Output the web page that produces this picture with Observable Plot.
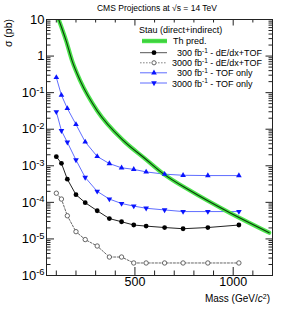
<!DOCTYPE html>
<html><head><meta charset="utf-8">
<script src="https://cdn.jsdelivr.net/npm/d3@7"></script>
<script src="https://cdn.jsdelivr.net/npm/@observablehq/plot@0.6"></script>
<style>body{margin:0;background:#fff} svg{display:block}</style>
</head><body><div id="chart"></div>
<script>
// ---- data ----
const masses = [100,126,156,200,247,308,370,432,494,557,651,745,871,1029];
const tof300   = [0.26,0.085,0.037,0.0135,0.0045,0.0018,0.00115,0.00088,0.00080,0.00068,0.00059,0.00055,0.00054,0.00054];
const tof3000  = [0.030,0.0091,0.0044,0.00144,0.00048,0.00020,0.000123,0.000093,0.000079,0.000069,0.000062,0.000056,0.000056,0.000056];
const dedx300  = [0.00177,0.00117,0.00043,0.000162,0.000098,0.000059,0.000036,0.0000295,0.000024,0.0000224,0.0000205,0.000019,0.0000205,0.000024];
const dedx3000 = [0.000178,0.000123,0.000043,0.0000158,0.0000096,0.0000064,0.0000032,0.0000032,0.0000022,0.0000022,0.0000022,0.0000022,0.0000022,0.0000022];
const thMass  = [112,150,180,222,308,443,554,647,780,971,1183];
const thXsec  = [10,2.6,0.75,0.21,0.032,0.0048,0.00153,0.00059,0.00021,0.000056,0.0000148];
const yMajor = [1e-6,1e-5,1e-4,1e-3,1e-2,1e-1,1,10];
const yMinorFactors = [2,3,4,5,6,7,8,9];
const xMajor = [500,1000];
const xTickLabels = ["500","1000"];
const xMinor = [100,200,300,400,600,700,800,900,1100];

const rows = a => masses.map((m,i)=>({m, v:a[i]}));
const th = thMass.map((m,i)=>({m, v:thXsec[i]}));
const yMinor = yMajor.slice(0,-1).flatMap(d => yMinorFactors.map(f => d*f));
const xLabels = xMajor.map((x,i)=>({x, t:xTickLabels[i]}));

const W = 287, H = 311, mL = 46, mR = 15, mT = 19, mB = 36;
const fw = W - mL - mR, fh = H - mT - mB;
const axc = "#222";
const blueLine = "#4d5cff", blue = "#0a14ff";
const green = "#4be34b";

function fmt(d){
  const e = Math.round(Math.log10(d));
  if (e === 0) return "1";
  if (e === 1) return "10";
  return "10^" + e;
}

const plot = Plot.plot({
  width: W, height: H,
  marginLeft: mL, marginRight: mR, marginTop: mT, marginBottom: mB,
  style: {fontFamily: "'Liberation Sans', Arial, sans-serif", background: "white", color: "#000"},
  x: {type: "linear", domain: [50, 1200], axis: null},
  y: {type: "log", domain: [1e-6, 10]},
  marks: [
    // inward ticks
    Plot.tickY(yMajor, {y: d=>d, insetRight: fw-8, stroke: axc}),
    Plot.tickY(yMinor, {y: d=>d, insetRight: fw-4.5, stroke: axc}),
    Plot.tickY(yMajor, {y: d=>d, insetLeft: fw-6.5, stroke: axc}),
    Plot.tickY(yMinor, {y: d=>d, insetLeft: fw-3.5, stroke: axc}),
    Plot.tickX(xMajor, {x: d=>d, insetTop: fh-8, stroke: axc}),
    Plot.tickX(xMinor, {x: d=>d, insetTop: fh-4.5, stroke: axc}),
    Plot.tickX(xMajor, {x: d=>d, insetBottom: fh-6.5, stroke: axc}),
    Plot.tickX(xMinor, {x: d=>d, insetBottom: fh-3.5, stroke: axc}),
    Plot.axisY({ticks: yMajor, tickSize: 0, tickPadding: 2, tickFormat: fmt, fontSize: 13, label: null}),
    Plot.text(xLabels, {x: "x", text: "t", frameAnchor: "bottom", lineAnchor: "top", dy: 2, fontSize: 12.5, fill: "#000"}),
    // series lines
    Plot.line(rows(dedx3000), {x: "m", y: "v", stroke: "#555", strokeWidth: 0.9, strokeDasharray: "2,1.6"}),
    Plot.line(rows(dedx300), {x: "m", y: "v", stroke: "#222", strokeWidth: 1}),
    Plot.line(rows(tof3000), {x: "m", y: "v", stroke: blueLine, strokeWidth: 0.9}),
    Plot.line(rows(tof300), {x: "m", y: "v", stroke: blueLine, strokeWidth: 0.9}),
    // theory band
    Plot.line(th, {x: "m", y: "v", stroke: green, strokeWidth: 4.2, curve: "monotone-x", clip: true}),
    Plot.line(th, {x: "m", y: "v", stroke: "#0b3a0b", strokeWidth: 1.1, curve: "monotone-x", clip: true}),
    // markers
    Plot.dot(rows(dedx3000), {x: "m", y: "v", r: 2.2, fill: "white", stroke: "#555", strokeWidth: 0.9}),
    Plot.dot(rows(dedx300), {x: "m", y: "v", r: 2.4, fill: "#000", stroke: "none"}),
    Plot.dot(rows(tof3000), {x: "m", y: "v", r: 2.1, symbol: "triangle", rotate: 180, fill: blue, stroke: "none"}),
    Plot.dot(rows(tof300), {x: "m", y: "v", r: 2.1, symbol: "triangle", fill: blue, stroke: "none"}),
    Plot.frame({stroke: axc})
  ]
});
document.getElementById("chart").appendChild(plot);

const ns = "http://www.w3.org/2000/svg";
// superscripts in y tick labels
plot.querySelectorAll('[aria-label="y-axis tick label"] text').forEach(t => {
  const s = t.textContent;
  if (s.includes("^")) {
    const [b, e] = s.split("^");
    t.textContent = "";
    const t1 = document.createElementNS(ns, "tspan"); t1.textContent = b; t.appendChild(t1);
    const t2 = document.createElementNS(ns, "tspan"); t2.textContent = e;
    t2.setAttribute("dy", "-0.45em"); t2.setAttribute("font-size", "0.72em"); t.appendChild(t2);
  }
});

const svg = d3.select(plot);
// title
svg.append("text").attr("x", 157).attr("y", 11).attr("text-anchor", "middle")
  .attr("font-size", 8.5).text("CMS Projections at √s = 14 TeV");
// y label
svg.append("text").attr("transform", "translate(11.5,19) rotate(-90)").attr("text-anchor", "end")
  .attr("font-size", 10.5).text("σ (pb)");
// x label
const xl = svg.append("text").attr("x", 270).attr("y", 302).attr("text-anchor", "end").attr("font-size", 10);
xl.append("tspan").text("Mass (GeV/");
xl.append("tspan").attr("font-style", "italic").text("c");
xl.append("tspan").attr("dy", -3.5).attr("font-size", 7).text("2");
xl.append("tspan").attr("dy", 3.5).text(")");

// legend
const lg = svg.append("g").attr("font-size", 9).attr("text-anchor", "start");
lg.append("text").attr("x", 139).attr("y", 32.5).text("Stau (direct+indirect)");
lg.append("rect").attr("x", 142).attr("y", 38.8).attr("width", 25).attr("height", 4.4).attr("fill", green);
lg.append("line").attr("x1", 142).attr("x2", 167).attr("y1", 41).attr("y2", 41).attr("stroke", "#2fb52f").attr("stroke-width", 0.8);
lg.append("text").attr("x", 173).attr("y", 44.3).text("Th pred.");
function supLabel(x, y, lum, rest){
  const t = lg.append("text").attr("x", x).attr("y", y);
  t.append("tspan").text(lum + " fb");
  t.append("tspan").attr("dy", -3.5).attr("font-size", 6.5).text("-1");
  t.append("tspan").attr("dy", 3.5).text(" - " + rest);
}
const sym = (type, r) => d3.symbol(type).size(Math.PI * r * r)();
// row 2
lg.append("line").attr("x1", 140).attr("x2", 167).attr("y1", 52.7).attr("y2", 52.7).attr("stroke", "#555").attr("stroke-width", 1);
lg.append("circle").attr("cx", 154).attr("cy", 52.7).attr("r", 2.4).attr("fill", "#000");
supLabel(177, 56, "300", "dE/dx+TOF");
// row 3
lg.append("line").attr("x1", 140).attr("x2", 167).attr("y1", 62.8).attr("y2", 62.8).attr("stroke", "#777").attr("stroke-width", 0.9).attr("stroke-dasharray", "1.6,1.4");
lg.append("circle").attr("cx", 154).attr("cy", 62.8).attr("r", 2.1).attr("fill", "white").attr("stroke", "#555").attr("stroke-width", 0.9);
supLabel(172, 66.2, "3000", "dE/dx+TOF");
// row 4
lg.append("line").attr("x1", 140).attr("x2", 167).attr("y1", 72.8).attr("y2", 72.8).attr("stroke", blueLine).attr("stroke-width", 0.9);
lg.append("path").attr("d", sym(d3.symbolTriangle, 2.1)).attr("transform", "translate(154,72.8)").attr("fill", blue);
supLabel(177, 76.3, "300", "TOF only");
// row 5
lg.append("line").attr("x1", 140).attr("x2", 167).attr("y1", 83).attr("y2", 83).attr("stroke", blueLine).attr("stroke-width", 0.9);
lg.append("path").attr("d", sym(d3.symbolTriangle, 2.1)).attr("transform", "translate(154,83) rotate(180)").attr("fill", blue);
supLabel(172, 86.5, "3000", "TOF only");
</script>
</body></html>
